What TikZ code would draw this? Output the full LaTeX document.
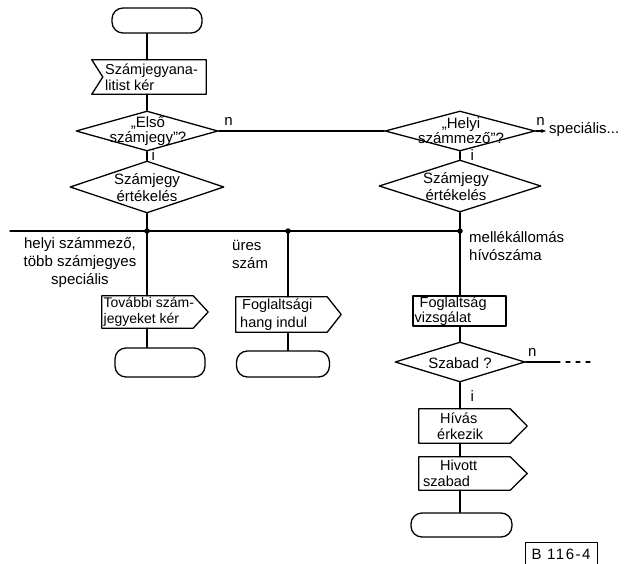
\documentclass[tikz,border=0pt]{standalone}
\usepackage{fontspec}
\setmainfont{Liberation Sans}
\usetikzlibrary{shapes.geometric,arrows.meta}
\begin{document}
\begin{tikzpicture}[x=1pt,y=-1pt,
  ln/.style={line width=1.3pt, black, line cap=round, line join=round},
  lbl/.style={font=\fontsize{15}{18}\selectfont, inner sep=0pt},
  txt/.style={font=\fontsize{14.5}{16}\selectfont, inner sep=0pt, align=left, anchor=west},
  dtxt/.style={font=\fontsize{15}{15}\selectfont, inner sep=0pt, align=center},
  term/.style={ln, draw, rectangle, rounded corners=11pt},
  dia/.style={ln, draw, diamond, inner sep=0pt},
  body/.style={rectangle, inner sep=0pt},
  jdot/.style={circle, fill=black, inner sep=0pt, minimum size=5.5pt},
]
\useasboundingbox (0,0) rectangle (632,564);

% ---- left column: start, digit request, first-digit test
\node[term, minimum width=90pt, minimum height=25pt] (term1) at (157,20.5) {};
\node[body, minimum width=114pt, minimum height=34pt] (inp) at (149,77) {};
\draw[ln] (inp.north west) -- (inp.north east) -- (inp.south east)
  -- (inp.south west) -- ([xshift=11pt]inp.west) -- cycle;
\node[txt] (inpt) at (105,77) {Számjegyana-\\litist kér};

\node[dia, minimum width=142pt, minimum height=40pt] (d1) at (147,131) {};
\node[dtxt] (d1t) at (148,131) {„Első\\számjegy”?};
\node[dia, minimum width=154pt, minimum height=52pt] (d2) at (147,187) {};
\node[dtxt, font=\fontsize{15}{17}\selectfont] (d2t) at (147,188) {Számjegy\\értékelés};

% ---- right column: local number field test
\node[dia, minimum width=150pt, minimum height=40pt] (h1) at (460,131) {};
\node[dtxt] (h1t) at (461,131) {„Helyi\\számmező”?};
\node[dia, minimum width=162pt, minimum height=52pt] (h2) at (460,186) {};
\node[dtxt, font=\fontsize{15}{17}\selectfont] (h2t) at (456,187) {Számjegy\\értékelés};
\coordinate (spA) at (546,131);
\node[lbl, anchor=west] (spec) at (549,130) {speciális...};

% ---- branch bus and junctions
\coordinate (busL) at (10,231);
\coordinate (j1) at (147,231);
\coordinate (j2) at (288,231);
\coordinate (j3) at (460,231);

\node[lbl, align=center] (lab1) at (80,263) {helyi számmező,\\több számjegyes\\speciális};
\node[lbl, align=left, anchor=west] (lab2) at (232,254) {üres\\szám};
\node[lbl, align=left, anchor=west] (lab3) at (469,246) {mellékállomás\\hívószáma};

% ---- left branch
\node[body, minimum width=91pt, minimum height=32pt] (tov) at (147.5,312) {};
\draw[ln] (tov.north west) -- (tov.north east) -- ([xshift=15pt]tov.east)
  -- (tov.south east) -- (tov.south west) -- cycle;
\node[txt, font=\fontsize{14}{16}\selectfont] (tovt) at (103.5,312) {További szám-\\jegyeket kér};
\node[term, minimum width=90pt, minimum height=29pt] (term2) at (160,362.5) {};

% ---- middle branch
\node[body, minimum width=91pt, minimum height=35pt] (fog) at (281.5,314.5) {};
\draw[ln] (fog.north west) -- (fog.north east) -- ([xshift=14pt]fog.east)
  -- (fog.south east) -- (fog.south west) -- cycle;
\node[txt, font=\fontsize{14.5}{18}\selectfont] (fogt) at (240,314.5) {\hspace*{2pt}Foglaltsági\\hang indul};
\node[term, minimum width=93pt, minimum height=26pt] (term3) at (283,364) {};

% ---- right branch
\node[ln, draw, rectangle, minimum width=93pt, minimum height=30pt] (fv) at (459.5,311) {};
\node[txt, font=\fontsize{14.5}{15}\selectfont] (fvt) at (414.5,311.5) {\hspace*{5pt}Foglaltság\\vizsgálat};
\node[dia, minimum width=130pt, minimum height=40pt] (szab) at (460,362) {};
\node[dtxt] (szabt) at (460,363) {Szabad ?};
\coordinate (szn) at (560,362);
\coordinate (szd) at (595,362);

\node[body, minimum width=91pt, minimum height=34pt] (hiv) at (464.5,426) {};
\draw[ln] (hiv.north west) -- (hiv.north east) -- ([xshift=17pt]hiv.east)
  -- (hiv.south east) -- (hiv.south west) -- cycle;
\node[txt] (hivt) at (437,426) {\hspace*{3pt}Hívás\\érkezik};
\node[body, minimum width=91pt, minimum height=33pt] (hvt) at (464.5,473.5) {};
\draw[ln] (hvt.north west) -- (hvt.north east) -- ([xshift=17pt]hvt.east)
  -- (hvt.south east) -- (hvt.south west) -- cycle;
\node[txt] (hvtt) at (423,473.5) {\hspace*{17pt}Hivott\\szabad};
\node[term, minimum width=101pt, minimum height=24pt] (term4) at (461.5,525) {};

% ---- drawing reference tag
\node[body, minimum width=71pt, minimum height=21pt] (ref) at (561.5,553.5) {};
\draw[ln] (ref.south west) -- (ref.north west) -- (ref.north east) -- (ref.south east);
\node[lbl, font=\fontsize{15}{17}\selectfont] (reft) at (561,554)
  {\addfontfeatures{LetterSpace=10}B 116-4};

% ---- connectors
\draw[ln] (d1.north |- term1.south) -- (d1.north |- inp.north);
\draw[ln] (d1.north |- inp.south) -- (d1.north);
\draw[ln] (d1.south) -- (d2.north) node[lbl, pos=0.45, anchor=west, xshift=4pt] (i1) {i};
\draw[ln] (d1.east) -- (h1.west) node[lbl, pos=0.03, anchor=south west, yshift=5pt] (n1) {n};
\draw[ln] (h1.south) -- (h2.north) node[lbl, pos=0.5, anchor=west, xshift=10pt] (i2) {i};
\draw[ln, -{Stealth[length=5pt,width=4pt]}] (h1.east) -- (spA)
  node[lbl, pos=0, anchor=south west, yshift=5pt] (n2) {n};
\draw[ln] (d2.south) -- (j1);
\draw[ln] (h2.south) -- (j3);
\draw[ln] (busL) -- (j3);
\draw[ln] (j1) -- (j1 |- tov.north);
\draw[ln] (j1 |- tov.south) -- (j1 |- term2.north);
\draw[ln] (j2) -- (j2 |- fog.north);
\draw[ln] (j2 |- fog.south) -- (j2 |- term3.north);
\draw[ln] (j3) -- (j3 |- fv.north);
\draw[ln] (j3 |- fv.south) -- (szab.north);
\draw[ln] (szab.east) -- (szn) node[lbl, pos=0.05, anchor=south west, yshift=5pt] (n3) {n};
\draw[ln, dash pattern=on 4pt off 6pt] ([xshift=6pt]szn) -- (szd);
\draw[ln] (szab.south) -- (szab.south |- hiv.north)
  node[lbl, pos=0.5, anchor=west, xshift=10pt] (i3) {i};
\draw[ln] (szab.south |- hiv.south) -- (szab.south |- hvt.north);
\draw[ln] (szab.south |- hvt.south) -- (szab.south |- term4.north);

\node[jdot] (dot1) at (j1) {};
\node[jdot] (dot2) at (j2) {};
\node[jdot] (dot3) at (j3) {};
\end{tikzpicture}
\end{document}
